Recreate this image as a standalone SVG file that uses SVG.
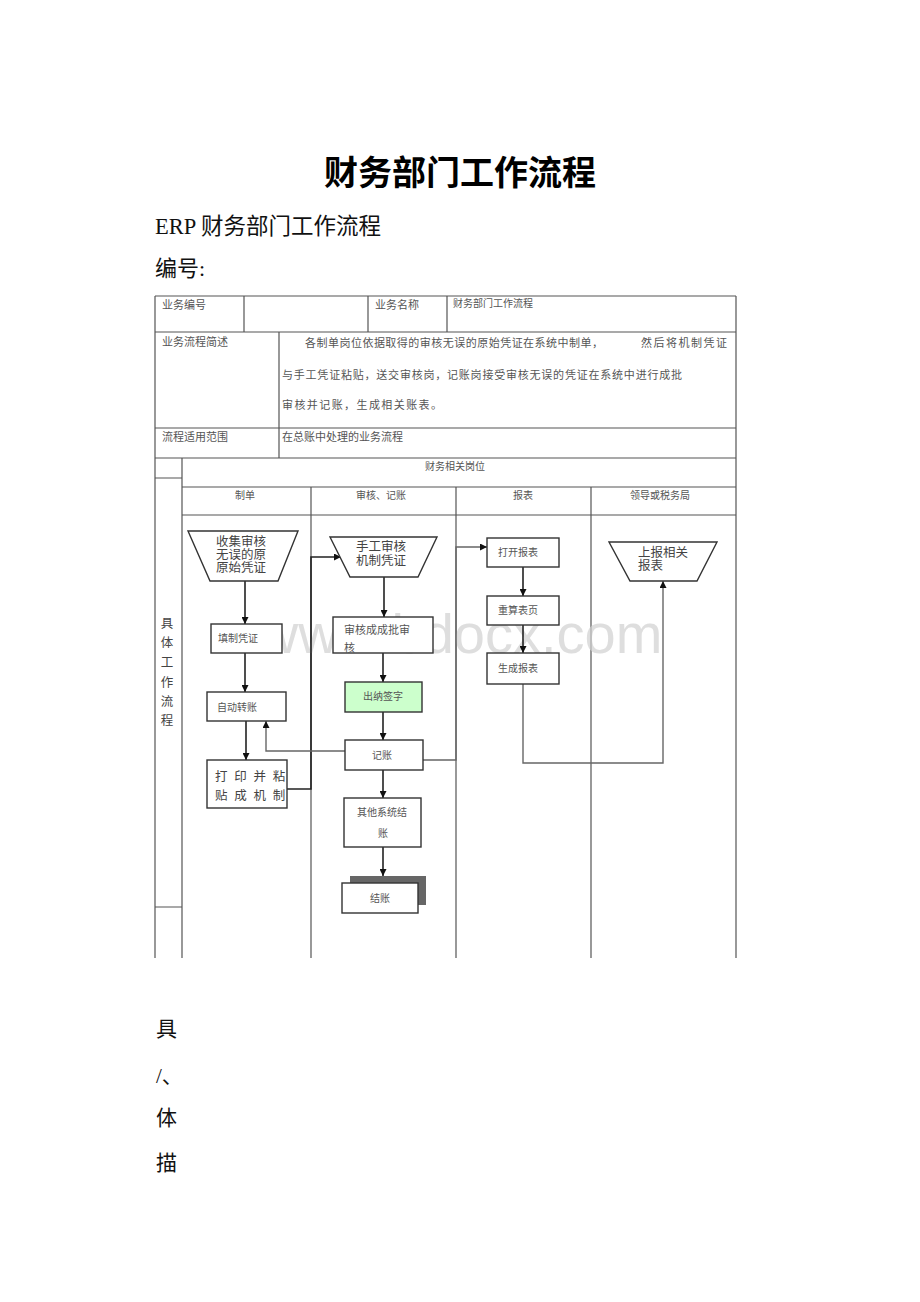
<svg xmlns="http://www.w3.org/2000/svg" width="920" height="1302" viewBox="0 0 920 1302">
<defs>
<style>
text{font-family:'Liberation Serif','Noto Sans CJK SC',serif;}
text.wm{font-family:'Liberation Sans',Arial,sans-serif;}
.t{fill:#555;font-size:11px;}
.s{fill:#555;font-size:10px;}
.n{fill:#444;font-size:12.5px;}
.tbl{stroke:#555;stroke-width:1.2;fill:none;}
.box{fill:#fff;stroke:#333;stroke-width:1.4;}
.cn{fill:none;stroke:#222;stroke-width:1.6;}
.cg{fill:none;stroke:#666;stroke-width:1.4;}
</style>
<marker id="ah" viewBox="0 0 10 10" refX="10" refY="5" markerWidth="7" markerHeight="7" markerUnits="userSpaceOnUse" orient="auto">
<path d="M0,0 L10,5 L0,10 z" fill="#111"/>
</marker>
</defs>
<rect width="920" height="1302" fill="#fff"/>
<text x="460" y="185" text-anchor="middle" font-size="34" font-weight="bold" fill="#000">财务部门工作流程</text>
<text x="155" y="234" font-size="22.5" fill="#111">ERP 财务部门工作流程</text>
<text x="155" y="276" font-size="22" fill="#111">编号:</text>

<g id="table">
<path class="tbl" d="M155,296 H736 M155,332 H736 M279,428 H736 M155,428 H279 M155,458 H736 M182,487 H736 M182,515 H736 M155,478 H182 M155,907 H182"/>
<path class="tbl" d="M155,296 V958 M736,296 V958 M244,296 V332 M368,296 V332 M447,296 V332 M279,332 V458 M182,458 V958 M311,487 V958 M456,487 V958 M591,487 V958"/>
<text class="t" x="162" y="309">业务编号</text>
<text class="t" x="375" y="309">业务名称</text>
<text class="s" x="453" y="307" font-size="9">财务部门工作流程</text>
<text class="t" x="162" y="346">业务流程简述</text>
<text class="t" x="305" y="347" font-size="11.5" textLength="298" lengthAdjust="spacing">各制单岗位依据取得的审核无误的原始凭证在系统中制单，</text>
<text class="t" x="641" y="347" font-size="11.5" textLength="86" lengthAdjust="spacing">然后将机制凭证</text>
<text class="t" x="282" y="379" font-size="11.6" textLength="400" lengthAdjust="spacing">与手工凭证粘贴，送交审核岗，记账岗接受审核无误的凭证在系统中进行成批</text>
<text class="t" x="282" y="409" font-size="11.6" textLength="160" lengthAdjust="spacing">审核并记账，生成相关账表。</text>
<text class="t" x="162" y="441">流程适用范围</text>
<text class="t" x="282" y="441">在总账中处理的业务流程</text>
<text class="s" x="455" y="470" text-anchor="middle">财务相关岗位</text>
<text class="s" x="245" y="499" text-anchor="middle">制单</text>
<text class="s" x="381" y="499" text-anchor="middle">审核、记账</text>
<text class="s" x="523" y="499" text-anchor="middle">报表</text>
<text class="s" x="660" y="499" text-anchor="middle">领导或税务局</text>
<g class="n" text-anchor="middle" font-size="12">
<text x="167" y="628">具</text>
<text x="167" y="647">体</text>
<text x="167" y="667">工</text>
<text x="167" y="687">作</text>
<text x="167" y="706">流</text>
<text x="167" y="725">程</text>
</g>
</g>

<text class="wm" x="460" y="653" text-anchor="middle" font-size="56" fill="#d0d0d0" fill-opacity="0.7">www.bdocx.com</text>

<g id="connectors">
<path class="cn" d="M245,581 V624" marker-end="url(#ah)"/>
<path class="cn" d="M245,653 V692" marker-end="url(#ah)"/>
<path class="cn" d="M246,721 V760" marker-end="url(#ah)"/>
<path class="cn" d="M287,789 H311 V557 H341" marker-end="url(#ah)"/>
<path class="cn" d="M384,577 V617" marker-end="url(#ah)"/>
<path class="cn" d="M383,653 V682" marker-end="url(#ah)"/>
<path class="cn" d="M383,712 V740" marker-end="url(#ah)"/>
<path class="cg" d="M345,751 H266 V721" marker-end="url(#ah)"/>
<path class="cg" d="M423,760 H456 V547 H487" marker-end="url(#ah)"/>
<path class="cn" d="M383,770 V798" marker-end="url(#ah)"/>
<path class="cn" d="M383,847 V876" marker-end="url(#ah)"/>
<path class="cn" d="M523,567 V596" marker-end="url(#ah)"/>
<path class="cn" d="M523,625 V653" marker-end="url(#ah)"/>
<path class="cg" d="M523,684 V763 H663 V581" marker-end="url(#ah)"/>
</g>

<g id="n1">
<polygon class="box" points="188,531 298,531 278,581 210,581"/>
<text class="n" x="241" y="546" text-anchor="middle">收集审核</text>
<text class="n" x="241" y="559" text-anchor="middle">无误的原</text>
<text class="n" x="241" y="572" text-anchor="middle">原始凭证</text>
</g>
<g id="n2">
<rect class="box" x="211" y="624" width="71" height="29"/>
<text class="s" x="218" y="642">填制凭证</text>
</g>
<g id="n3">
<rect class="box" x="207" y="692" width="79" height="29"/>
<text class="s" x="217" y="711">自动转账</text>
</g>
<g id="n4">
<rect class="box" x="207" y="760" width="80" height="48"/>
<text class="n" x="215" y="781" font-size="12" letter-spacing="1.8">打 印 并 粘</text>
<text class="n" x="215" y="800" font-size="12" letter-spacing="1.8">贴 成 机 制</text>
</g>
<g id="n5">
<polygon class="box" points="330,537 437,537 418,577 350,577"/>
<text class="n" x="381" y="551" text-anchor="middle" font-size="13">手工审核</text>
<text class="n" x="381" y="565" text-anchor="middle" font-size="13">机制凭证</text>
</g>
<g id="n6">
<rect class="box" x="333" y="617" width="100" height="36"/>
<text class="t" x="344" y="634">审核成成批审</text>
<text class="t" x="344" y="652">核</text>
</g>
<g id="n7">
<rect class="box" x="345" y="682" width="77" height="30" style="fill:#ccffcc"/>
<text class="s" x="383" y="700" text-anchor="middle">出纳签字</text>
</g>
<g id="n8">
<rect class="box" x="345" y="740" width="78" height="30"/>
<text class="s" x="382" y="759" text-anchor="middle">记账</text>
</g>
<g id="n9">
<rect class="box" x="344" y="798" width="77" height="49"/>
<text class="s" x="382" y="816" text-anchor="middle">其他系统结</text>
<text class="s" x="383" y="837" text-anchor="middle">账</text>
</g>
<g id="n10">
<rect x="350" y="876" width="76" height="29" fill="#666"/>
<rect class="box" x="342" y="883" width="76" height="30"/>
<text class="s" x="380" y="902" text-anchor="middle">结账</text>
</g>
<g id="n11">
<rect class="box" x="487" y="538" width="72" height="29"/>
<text class="s" x="498" y="556">打开报表</text>
</g>
<g id="n12">
<rect class="box" x="487" y="596" width="72" height="29"/>
<text class="s" x="498" y="614">重算表页</text>
</g>
<g id="n13">
<rect class="box" x="487" y="653" width="72" height="31"/>
<text class="s" x="498" y="672">生成报表</text>
</g>
<g id="n14">
<polygon class="box" points="609,542 717,542 697,581 630,581"/>
<text class="n" x="638" y="557">上报相关</text>
<text class="n" x="638" y="570">报表</text>
</g>

<g id="footer" font-size="21" fill="#111">
<text x="156" y="1036">具</text>
<text x="156" y="1083">/、</text>
<text x="156" y="1125">体</text>
<text x="156" y="1170">描</text>
</g>
</svg>
